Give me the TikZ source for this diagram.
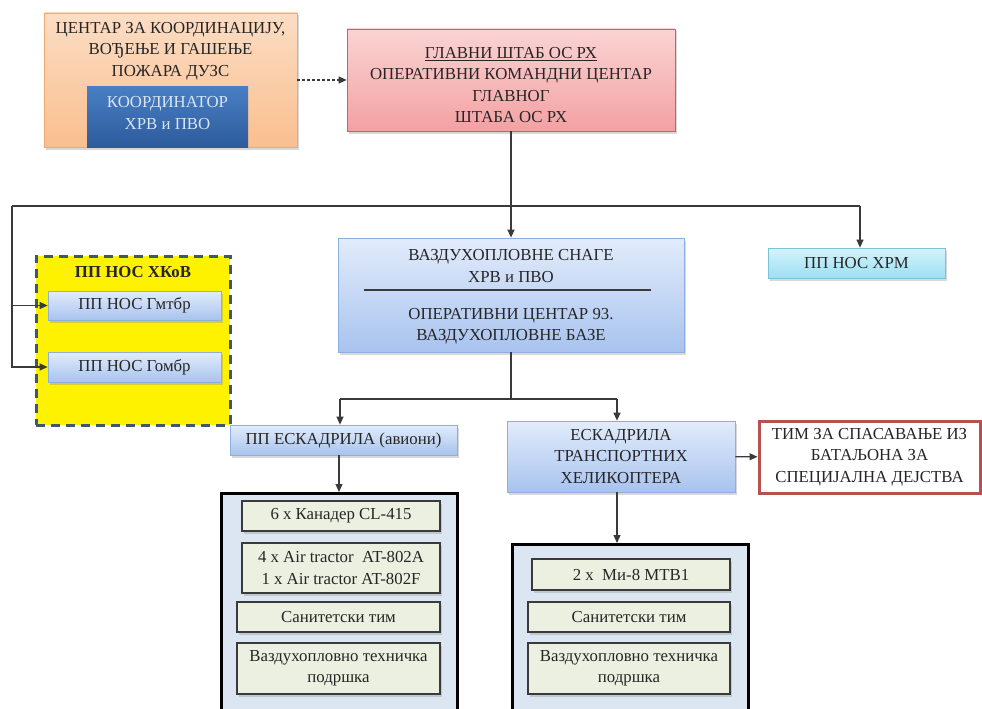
\documentclass[tikz,border=0pt]{standalone}
\usepackage{fontspec}
\setmainfont{Liberation Serif}
\usetikzlibrary{shadows,arrows.meta}

\definecolor{txtgray}{HTML}{262626}
\definecolor{linegray}{HTML}{3A3A3A}
\definecolor{orangetop}{HTML}{FCDDC4}
\definecolor{orangebot}{HTML}{F9BF8F}
\definecolor{orangeedge}{HTML}{EFA870}
\definecolor{koordtop}{HTML}{4A7FC4}
\definecolor{koordbot}{HTML}{2C5B9B}
\definecolor{koordtxt}{HTML}{D9E5F5}
\definecolor{pinktop}{HTML}{FBD3D3}
\definecolor{pinkbot}{HTML}{F3A1A3}
\definecolor{pinkedge}{HTML}{B46A6A}
\definecolor{bluetop}{HTML}{E2ECFB}
\definecolor{bluebot}{HTML}{A8C3EE}
\definecolor{blueedge}{HTML}{8EAEDB}
\definecolor{cyantop}{HTML}{D4F3FB}
\definecolor{cyanbot}{HTML}{9CE0F3}
\definecolor{cyanedge}{HTML}{7CC3D8}
\definecolor{greenfill}{HTML}{ECF0E1}
\definecolor{fleetfill}{HTML}{DCE6F2}
\definecolor{timedge}{HTML}{B5514E}
\definecolor{yellowedge}{HTML}{3E566E}

\begin{document}
\begin{tikzpicture}[x=1pt,y=-1pt,
    every node/.style={font=\boxfontsize,text=txtgray,align=center,inner sep=0pt},
    shbox/.style={line width=0.7pt,drop shadow={opacity=0.3,shadow xshift=2pt,shadow yshift=-2.5pt}},
    orangebox/.style={shbox,draw=orangeedge,top color=orangetop,bottom color=orangebot},
    koordbox/.style={top color=koordtop,bottom color=koordbot,text=koordtxt},
    pinkbox/.style={shbox,draw=pinkedge,top color=pinktop,bottom color=pinkbot},
    bluebox/.style={shbox,draw=blueedge,top color=bluetop,bottom color=bluebot},
    cyanbox/.style={shbox,draw=cyanedge,top color=cyantop,bottom color=cyanbot},
    greenbox/.style={shbox,draw=linegray,line width=1.2pt,fill=greenfill},
    fleetbox/.style={draw=black,line width=3pt,fill=fleetfill},
    conn/.style={draw=linegray,line width=1.2pt},
    arr/.style={conn,-{Triangle[length=8pt,width=7pt]}},
    ]
    \providecommand{\boxfontsize}{\fontsize{16.8}{21.3}\selectfont}
    \clip (0,0) rectangle (982,709);
    \fill[white] (0,0) rectangle (982,709);

    % top row
    \node[orangebox,minimum width=253,minimum height=134] (centar) at (170.5,80) {};
    \node (centartxt) at (170.5,51) {ЦЕНТАР ЗА КООРДИНАЦИЈУ,\\ ВОЂЕЊЕ И ГАШЕЊЕ\\ ПОЖАРА ДУЗС};
    \node[koordbox,minimum width=161,minimum height=61] (koord) at (167.5,116.5) {};
    \node[text=koordtxt] (koordtxt) at (167.5,113) {КООРДИНАТОР\\ ХРВ и ПВО};
    \node[pinkbox,minimum width=328,minimum height=102] (glavni) at (511,80) {};
    \node (glavnitxt) at (511,85)
        {\underline{ГЛАВНИ ШТАБ ОС РХ}\\ ОПЕРАТИВНИ КОМАНДНИ ЦЕНТАР\\ ГЛАВНОГ\\ ШТАБА ОС РХ};

    % middle row
    \node[bluebox,minimum width=346,minimum height=114] (vsnage) at (511,295) {};
    \node (vsnagetop) at (511,266) {ВАЗДУХОПЛОВНЕ СНАГЕ\\ ХРВ и ПВО};
    \node (vsnagebot) at (511,326) {ОПЕРАТИВНИ ЦЕНТАР 93.\\ ВАЗДУХОПЛОВНЕ БАЗЕ};
    \draw[conn] (vsnage.west |- 0,290) ++(26,0) -- ++(287,0);
    \node[cyanbox,minimum width=177,minimum height=30] (hrm) at (856.5,263) {ПП НОС ХРМ};

    \node[draw=yellowedge,fill=yellow,line width=3pt,dash pattern=on 9pt off 6pt,
        minimum width=194,minimum height=169] (hkov) at (133,340.5) {};
    \node[font=\boxfontsize\bfseries] (hkovtxt) at (133,272) {ПП НОС  ХКоВ};
    \node[bluebox,minimum width=173,minimum height=29] (gmtbr) at (134.5,305.5) {ПП НОС Гмтбр};
    \node[bluebox,minimum width=173,minimum height=30] (gombr) at (134.5,367) {ПП НОС Гомбр};

    % lower row
    \node[bluebox,minimum width=227,minimum height=30] (ppesk) at (343.5,440) {ПП ЕСКАДРИЛА (авиони)};
    \node[bluebox,minimum width=228,minimum height=71] (heli) at (621,456.5) {ЕСКАДРИЛА\\ ТРАНСПОРТНИХ\\ ХЕЛИКОПТЕРА};
    \node[draw=timedge,fill=white,line width=3pt,minimum width=221,minimum height=72] (tim) at (869.5,457)
        {ТИМ ЗА СПАСАВАЊЕ ИЗ\\ БАТАЉОНА ЗА\\ СПЕЦИЈАЛНА ДЕЈСТВА};

    \node[fleetbox,anchor=north,minimum width=236,minimum height=250] (fleetA) at (339,492) {};
    \node[greenbox,minimum width=198,minimum height=30] (canadair) at (341,516) {6 x Канадер CL-415};
    \node[greenbox,minimum width=198,minimum height=50] (tractor) at (341,568) {4 x Air tractor~~AT-802A\\ 1 x Air tractor AT-802F};
    \node[greenbox,minimum width=203,minimum height=30] (sanA) at (338.5,617) {Санитетски тим};
    \node[greenbox,minimum width=203,minimum height=51] (tehA) at (338.5,668.5) {Ваздухопловно техничка\\ подршка};

    \node[fleetbox,anchor=north,minimum width=236,minimum height=200] (fleetB) at (630,543) {};
    \node[greenbox,minimum width=198,minimum height=31] (mi8) at (631,574.5) {2 x~~Ми-8 МТВ1};
    \node[greenbox,minimum width=202,minimum height=30] (sanB) at (629,617) {Санитетски тим};
    \node[greenbox,minimum width=202,minimum height=51] (tehB) at (629,668.5) {Ваздухопловно техничка\\ подршка};

    % connectors
    \coordinate (busL) at (12,206);
    \coordinate (busR) at (860,206);
    \coordinate (forkL) at (340,399);
    \coordinate (forkR) at (617,399);
    \draw[arr,dash pattern=on 3pt off 2pt] (centar) -- (glavni);
    \draw[arr] (glavni) -- (vsnage);
    \draw[conn] (busL) -- (busR);
    \draw[arr] (busR) -- (busR |- hrm.north);
    \draw[arr] (busL) |- (gmtbr.west);
    \draw[arr] (busL) |- (gombr.west);
    \draw[conn] (vsnage.south) -- (vsnage.south |- forkL);
    \draw[conn] (forkL) -- (forkR);
    \draw[arr] (forkL) -- (forkL |- ppesk.north);
    \draw[arr] (forkR) -- (forkR |- heli.north);
    \draw[arr] (heli) -- (tim);
    \draw[arr] (ppesk.south -| fleetA.north) -- (fleetA.north);
    \draw[arr] (forkR |- heli.south) -- (forkR |- fleetB.north);
\end{tikzpicture}
\end{document}
